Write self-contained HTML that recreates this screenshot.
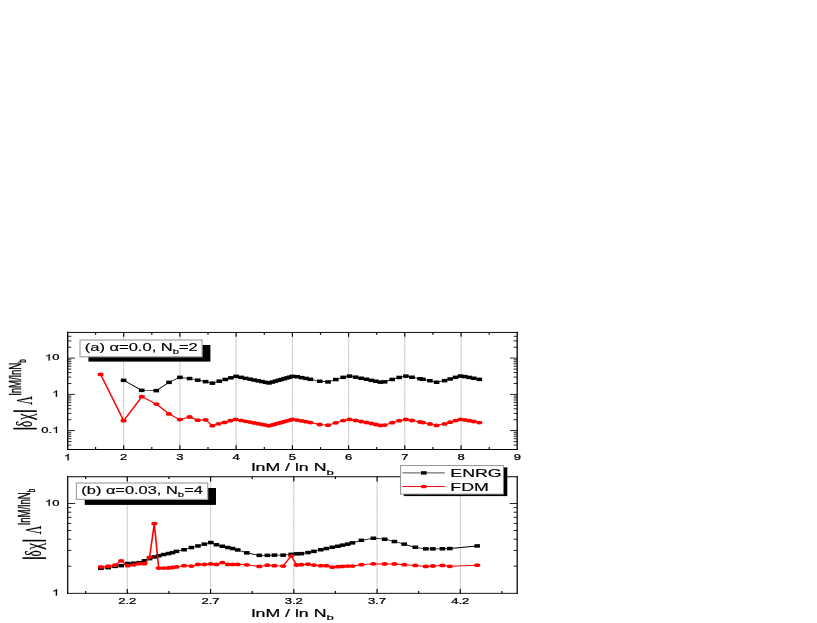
<!DOCTYPE html>
<html><head><meta charset="utf-8"><title>chart</title>
<style>html,body{margin:0;padding:0;background:#fff}svg{display:block;will-change:transform}</style>
</head><body>
<svg width="817" height="623" viewBox="0 0 817 623" font-family="'Liberation Sans', sans-serif" fill="#000">
<g stroke="#dedede" stroke-width="1">
<line x1="123.7" y1="332.4" x2="123.7" y2="449.4"/>
<line x1="179.9" y1="332.4" x2="179.9" y2="449.4"/>
<line x1="236.1" y1="332.4" x2="236.1" y2="449.4"/>
<line x1="292.4" y1="332.4" x2="292.4" y2="449.4"/>
<line x1="348.6" y1="332.4" x2="348.6" y2="449.4"/>
<line x1="404.8" y1="332.4" x2="404.8" y2="449.4"/>
<line x1="461.1" y1="332.4" x2="461.1" y2="449.4"/>
<line x1="127.3" y1="476.8" x2="127.3" y2="593.4"/>
<line x1="210.6" y1="476.8" x2="210.6" y2="593.4"/>
<line x1="293.8" y1="476.8" x2="293.8" y2="593.4"/>
<line x1="377.1" y1="476.8" x2="377.1" y2="593.4"/>
<line x1="460.3" y1="476.8" x2="460.3" y2="593.4"/>
</g>
<g stroke="#bdbdbd" stroke-width="0.9" stroke-dasharray="1.1,1.3">
<line x1="123.7" y1="332.4" x2="123.7" y2="449.4"/>
<line x1="179.9" y1="332.4" x2="179.9" y2="449.4"/>
<line x1="236.1" y1="332.4" x2="236.1" y2="449.4"/>
<line x1="292.4" y1="332.4" x2="292.4" y2="449.4"/>
<line x1="348.6" y1="332.4" x2="348.6" y2="449.4"/>
<line x1="404.8" y1="332.4" x2="404.8" y2="449.4"/>
<line x1="461.1" y1="332.4" x2="461.1" y2="449.4"/>
<line x1="127.3" y1="476.8" x2="127.3" y2="593.4"/>
<line x1="210.6" y1="476.8" x2="210.6" y2="593.4"/>
<line x1="293.8" y1="476.8" x2="293.8" y2="593.4"/>
<line x1="377.1" y1="476.8" x2="377.1" y2="593.4"/>
<line x1="460.3" y1="476.8" x2="460.3" y2="593.4"/>
</g>
<g transform="scale(1,0.64)"><polyline fill="none" stroke="#000" stroke-width="1.2" stroke-linejoin="round" points="123.6,594.22 141.7,610.00 156.3,610.47 169.0,597.34 179.9,589.53 189.6,591.41 197.7,593.91 205.6,596.25 212.4,598.75 219.3,595.57 225.3,592.91 230.9,590.44 236.1,588.12 241.1,589.67 245.7,591.12 250.1,592.50 254.2,593.80 258.2,595.04 262.0,596.22 265.6,597.35 269.0,598.44 272.3,596.97 275.5,595.57 278.6,594.22 281.5,592.91 284.4,591.65 287.1,590.44 289.8,589.26 292.4,588.12 297.2,588.74 301.7,590.03 306.1,591.36 310.4,592.71 319.7,595.71 328.0,596.81 335.8,593.00 343.2,589.60 349.5,587.72 355.6,589.36 361.1,590.99 366.4,592.64 371.4,594.23 375.8,595.67 380.3,597.16 384.6,596.62 392.2,592.91 399.2,589.70 405.9,587.76 412.0,589.41 420.0,591.82 423.0,592.76 429.9,594.98 436.6,597.19 444.6,594.76 450.2,592.07 455.6,589.62 460.5,587.64 464.9,588.48 469.3,589.72 473.7,591.04 479.3,592.78"/></g>
<g fill="#000"><rect x="120.8" y="378.6" width="5.6" height="3.5"/><rect x="138.9" y="388.6" width="5.6" height="3.5"/><rect x="153.5" y="388.9" width="5.6" height="3.5"/><rect x="166.2" y="380.6" width="5.6" height="3.5"/><rect x="177.1" y="375.6" width="5.6" height="3.5"/><rect x="186.8" y="376.8" width="5.6" height="3.5"/><rect x="194.9" y="378.4" width="5.6" height="3.5"/><rect x="202.8" y="379.9" width="5.6" height="3.5"/><rect x="209.6" y="381.4" width="5.6" height="3.5"/><rect x="216.5" y="379.4" width="5.6" height="3.5"/><rect x="222.5" y="377.7" width="5.6" height="3.5"/><rect x="228.1" y="376.1" width="5.6" height="3.5"/><rect x="233.3" y="374.6" width="5.6" height="3.5"/><rect x="238.3" y="375.6" width="5.6" height="3.5"/><rect x="242.9" y="376.6" width="5.6" height="3.5"/><rect x="247.3" y="377.4" width="5.6" height="3.5"/><rect x="251.4" y="378.3" width="5.6" height="3.5"/><rect x="255.4" y="379.1" width="5.6" height="3.5"/><rect x="259.2" y="379.8" width="5.6" height="3.5"/><rect x="262.8" y="380.6" width="5.6" height="3.5"/><rect x="266.2" y="381.2" width="5.6" height="3.5"/><rect x="269.5" y="380.3" width="5.6" height="3.5"/><rect x="272.7" y="379.4" width="5.6" height="3.5"/><rect x="275.8" y="378.5" width="5.6" height="3.5"/><rect x="278.7" y="377.7" width="5.6" height="3.5"/><rect x="281.6" y="376.9" width="5.6" height="3.5"/><rect x="284.3" y="376.1" width="5.6" height="3.5"/><rect x="287.0" y="375.4" width="5.6" height="3.5"/><rect x="289.6" y="374.6" width="5.6" height="3.5"/><rect x="294.4" y="375.0" width="5.6" height="3.5"/><rect x="298.9" y="375.9" width="5.6" height="3.5"/><rect x="303.3" y="376.7" width="5.6" height="3.5"/><rect x="307.6" y="377.6" width="5.6" height="3.5"/><rect x="316.9" y="379.5" width="5.6" height="3.5"/><rect x="325.2" y="380.2" width="5.6" height="3.5"/><rect x="333.0" y="377.8" width="5.6" height="3.5"/><rect x="340.4" y="375.6" width="5.6" height="3.5"/><rect x="346.7" y="374.4" width="5.6" height="3.5"/><rect x="352.8" y="375.4" width="5.6" height="3.5"/><rect x="358.3" y="376.5" width="5.6" height="3.5"/><rect x="363.6" y="377.5" width="5.6" height="3.5"/><rect x="368.6" y="378.6" width="5.6" height="3.5"/><rect x="373.0" y="379.5" width="5.6" height="3.5"/><rect x="377.5" y="380.4" width="5.6" height="3.5"/><rect x="381.8" y="380.1" width="5.6" height="3.5"/><rect x="389.4" y="377.7" width="5.6" height="3.5"/><rect x="396.4" y="375.7" width="5.6" height="3.5"/><rect x="403.1" y="374.4" width="5.6" height="3.5"/><rect x="409.2" y="375.5" width="5.6" height="3.5"/><rect x="417.2" y="377.0" width="5.6" height="3.5"/><rect x="420.2" y="377.6" width="5.6" height="3.5"/><rect x="427.1" y="379.0" width="5.6" height="3.5"/><rect x="433.8" y="380.5" width="5.6" height="3.5"/><rect x="441.8" y="378.9" width="5.6" height="3.5"/><rect x="447.4" y="377.2" width="5.6" height="3.5"/><rect x="452.8" y="375.6" width="5.6" height="3.5"/><rect x="457.7" y="374.3" width="5.6" height="3.5"/><rect x="462.1" y="374.9" width="5.6" height="3.5"/><rect x="466.5" y="375.7" width="5.6" height="3.5"/><rect x="470.9" y="376.5" width="5.6" height="3.5"/><rect x="476.5" y="377.6" width="5.6" height="3.5"/></g>
<g transform="scale(1,0.64)"><polyline fill="none" stroke="#f00" stroke-width="1.6" stroke-linejoin="round" points="100.6,585.00 123.6,657.34 141.8,619.84 156.4,631.41 169.0,646.72 179.9,655.62 189.6,651.56 197.7,656.56 205.6,655.94 212.4,665.16 218.6,662.19 224.5,660.00 230.3,657.34 235.6,655.31 241.1,656.81 245.7,658.22 250.1,659.55 254.2,660.82 258.2,662.02 262.0,663.17 265.6,664.26 269.0,665.31 272.3,663.89 275.5,662.53 278.6,661.22 281.5,659.95 284.4,658.73 287.1,657.56 289.8,656.42 292.4,655.31 297.2,656.38 301.7,657.65 306.1,658.96 310.4,660.28 319.7,663.24 328.0,664.33 335.8,660.57 343.2,657.23 349.5,655.37 355.6,656.99 361.1,658.59 366.4,660.21 371.4,661.79 375.8,663.20 380.3,664.67 384.6,664.14 392.2,660.49 399.2,657.32 405.9,655.41 412.0,657.04 420.0,659.41 423.0,660.33 429.9,662.52 436.6,664.70 444.6,662.30 450.2,659.66 455.6,657.24 460.5,655.29 464.9,656.12 469.3,657.35 473.7,658.64 479.3,660.36"/></g>
<g fill="#f00"><ellipse cx="100.6" cy="374.4" rx="3.1" ry="1.9"/><ellipse cx="123.6" cy="420.7" rx="3.1" ry="1.9"/><ellipse cx="141.8" cy="396.7" rx="3.1" ry="1.9"/><ellipse cx="156.4" cy="404.1" rx="3.1" ry="1.9"/><ellipse cx="169.0" cy="413.9" rx="3.1" ry="1.9"/><ellipse cx="179.9" cy="419.6" rx="3.1" ry="1.9"/><ellipse cx="189.6" cy="417.0" rx="3.1" ry="1.9"/><ellipse cx="197.7" cy="420.2" rx="3.1" ry="1.9"/><ellipse cx="205.6" cy="419.8" rx="3.1" ry="1.9"/><ellipse cx="212.4" cy="425.7" rx="3.1" ry="1.9"/><ellipse cx="218.6" cy="423.8" rx="3.1" ry="1.9"/><ellipse cx="224.5" cy="422.4" rx="3.1" ry="1.9"/><ellipse cx="230.3" cy="420.7" rx="3.1" ry="1.9"/><ellipse cx="235.6" cy="419.4" rx="3.1" ry="1.9"/><ellipse cx="241.1" cy="420.4" rx="3.1" ry="1.9"/><ellipse cx="245.7" cy="421.3" rx="3.1" ry="1.9"/><ellipse cx="250.1" cy="422.1" rx="3.1" ry="1.9"/><ellipse cx="254.2" cy="422.9" rx="3.1" ry="1.9"/><ellipse cx="258.2" cy="423.7" rx="3.1" ry="1.9"/><ellipse cx="262.0" cy="424.4" rx="3.1" ry="1.9"/><ellipse cx="265.6" cy="425.1" rx="3.1" ry="1.9"/><ellipse cx="269.0" cy="425.8" rx="3.1" ry="1.9"/><ellipse cx="272.3" cy="424.9" rx="3.1" ry="1.9"/><ellipse cx="275.5" cy="424.0" rx="3.1" ry="1.9"/><ellipse cx="278.6" cy="423.2" rx="3.1" ry="1.9"/><ellipse cx="281.5" cy="422.4" rx="3.1" ry="1.9"/><ellipse cx="284.4" cy="421.6" rx="3.1" ry="1.9"/><ellipse cx="287.1" cy="420.8" rx="3.1" ry="1.9"/><ellipse cx="289.8" cy="420.1" rx="3.1" ry="1.9"/><ellipse cx="292.4" cy="419.4" rx="3.1" ry="1.9"/><ellipse cx="297.2" cy="420.1" rx="3.1" ry="1.9"/><ellipse cx="301.7" cy="420.9" rx="3.1" ry="1.9"/><ellipse cx="306.1" cy="421.7" rx="3.1" ry="1.9"/><ellipse cx="310.4" cy="422.6" rx="3.1" ry="1.9"/><ellipse cx="319.7" cy="424.5" rx="3.1" ry="1.9"/><ellipse cx="328.0" cy="425.2" rx="3.1" ry="1.9"/><ellipse cx="335.8" cy="422.8" rx="3.1" ry="1.9"/><ellipse cx="343.2" cy="420.6" rx="3.1" ry="1.9"/><ellipse cx="349.5" cy="419.4" rx="3.1" ry="1.9"/><ellipse cx="355.6" cy="420.5" rx="3.1" ry="1.9"/><ellipse cx="361.1" cy="421.5" rx="3.1" ry="1.9"/><ellipse cx="366.4" cy="422.5" rx="3.1" ry="1.9"/><ellipse cx="371.4" cy="423.5" rx="3.1" ry="1.9"/><ellipse cx="375.8" cy="424.5" rx="3.1" ry="1.9"/><ellipse cx="380.3" cy="425.4" rx="3.1" ry="1.9"/><ellipse cx="384.6" cy="425.1" rx="3.1" ry="1.9"/><ellipse cx="392.2" cy="422.7" rx="3.1" ry="1.9"/><ellipse cx="399.2" cy="420.7" rx="3.1" ry="1.9"/><ellipse cx="405.9" cy="419.5" rx="3.1" ry="1.9"/><ellipse cx="412.0" cy="420.5" rx="3.1" ry="1.9"/><ellipse cx="420.0" cy="422.0" rx="3.1" ry="1.9"/><ellipse cx="423.0" cy="422.6" rx="3.1" ry="1.9"/><ellipse cx="429.9" cy="424.0" rx="3.1" ry="1.9"/><ellipse cx="436.6" cy="425.4" rx="3.1" ry="1.9"/><ellipse cx="444.6" cy="423.9" rx="3.1" ry="1.9"/><ellipse cx="450.2" cy="422.2" rx="3.1" ry="1.9"/><ellipse cx="455.6" cy="420.6" rx="3.1" ry="1.9"/><ellipse cx="460.5" cy="419.4" rx="3.1" ry="1.9"/><ellipse cx="464.9" cy="419.9" rx="3.1" ry="1.9"/><ellipse cx="469.3" cy="420.7" rx="3.1" ry="1.9"/><ellipse cx="473.7" cy="421.5" rx="3.1" ry="1.9"/><ellipse cx="479.3" cy="422.6" rx="3.1" ry="1.9"/></g>
<g transform="scale(1,0.64)"><polyline fill="none" stroke="#000" stroke-width="1.2" stroke-linejoin="round" points="100.9,888.12 108.2,886.88 115.1,885.00 121.2,883.75 127.8,880.47 133.7,880.00 139.1,879.06 144.5,876.25 149.6,872.81 154.3,870.31 158.7,868.28 163.6,866.41 168.5,864.84 172.5,863.44 176.5,861.56 184.1,858.91 191.4,855.47 198.0,853.12 204.4,850.16 210.8,847.66 216.4,851.09 222.3,853.59 227.9,855.47 232.6,857.03 237.7,859.38 246.8,863.91 259.3,867.81 267.4,867.81 274.4,867.34 283.1,867.34 291.2,866.25 296.7,865.47 301.4,865.00 308.0,863.28 313.9,861.56 320.8,858.91 326.4,857.03 332.3,855.16 337.9,853.59 342.6,851.72 347.7,850.16 352.4,848.28 361.4,844.38 373.4,840.94 384.7,842.50 394.4,846.09 404.2,850.16 415.3,855.16 425.8,857.66 432.9,857.66 442.4,857.50 449.8,857.03 477.2,853.12"/></g>
<g fill="#000"><rect x="98.1" y="566.6" width="5.6" height="3.5"/><rect x="105.4" y="565.9" width="5.6" height="3.5"/><rect x="112.3" y="564.6" width="5.6" height="3.5"/><rect x="118.4" y="563.9" width="5.6" height="3.5"/><rect x="125.0" y="561.8" width="5.6" height="3.5"/><rect x="130.9" y="561.5" width="5.6" height="3.5"/><rect x="136.3" y="560.9" width="5.6" height="3.5"/><rect x="141.7" y="559.0" width="5.6" height="3.5"/><rect x="146.8" y="556.9" width="5.6" height="3.5"/><rect x="151.5" y="555.2" width="5.6" height="3.5"/><rect x="155.9" y="554.0" width="5.6" height="3.5"/><rect x="160.8" y="552.8" width="5.6" height="3.5"/><rect x="165.7" y="551.8" width="5.6" height="3.5"/><rect x="169.7" y="550.9" width="5.6" height="3.5"/><rect x="173.7" y="549.6" width="5.6" height="3.5"/><rect x="181.3" y="548.0" width="5.6" height="3.5"/><rect x="188.6" y="545.8" width="5.6" height="3.5"/><rect x="195.2" y="544.2" width="5.6" height="3.5"/><rect x="201.6" y="542.4" width="5.6" height="3.5"/><rect x="208.0" y="540.8" width="5.6" height="3.5"/><rect x="213.6" y="543.0" width="5.6" height="3.5"/><rect x="219.5" y="544.5" width="5.6" height="3.5"/><rect x="225.1" y="545.8" width="5.6" height="3.5"/><rect x="229.8" y="546.8" width="5.6" height="3.5"/><rect x="234.9" y="548.2" width="5.6" height="3.5"/><rect x="244.0" y="551.1" width="5.6" height="3.5"/><rect x="256.5" y="553.6" width="5.6" height="3.5"/><rect x="264.6" y="553.6" width="5.6" height="3.5"/><rect x="271.6" y="553.4" width="5.6" height="3.5"/><rect x="280.3" y="553.4" width="5.6" height="3.5"/><rect x="288.4" y="552.6" width="5.6" height="3.5"/><rect x="293.9" y="552.1" width="5.6" height="3.5"/><rect x="298.6" y="551.9" width="5.6" height="3.5"/><rect x="305.2" y="550.8" width="5.6" height="3.5"/><rect x="311.1" y="549.6" width="5.6" height="3.5"/><rect x="318.0" y="548.0" width="5.6" height="3.5"/><rect x="323.6" y="546.8" width="5.6" height="3.5"/><rect x="329.5" y="545.5" width="5.6" height="3.5"/><rect x="335.1" y="544.5" width="5.6" height="3.5"/><rect x="339.8" y="543.4" width="5.6" height="3.5"/><rect x="344.9" y="542.4" width="5.6" height="3.5"/><rect x="349.6" y="541.1" width="5.6" height="3.5"/><rect x="358.6" y="538.6" width="5.6" height="3.5"/><rect x="370.6" y="536.5" width="5.6" height="3.5"/><rect x="381.9" y="537.5" width="5.6" height="3.5"/><rect x="391.6" y="539.8" width="5.6" height="3.5"/><rect x="401.4" y="542.4" width="5.6" height="3.5"/><rect x="412.5" y="545.5" width="5.6" height="3.5"/><rect x="423.0" y="547.1" width="5.6" height="3.5"/><rect x="430.1" y="547.1" width="5.6" height="3.5"/><rect x="439.6" y="547.0" width="5.6" height="3.5"/><rect x="447.0" y="546.8" width="5.6" height="3.5"/><rect x="474.4" y="544.2" width="5.6" height="3.5"/></g>
<g transform="scale(1,0.64)"><polyline fill="none" stroke="#f00" stroke-width="1.6" stroke-linejoin="round" points="100.9,885.78 108.2,884.69 115.1,883.12 121.2,876.25 127.8,883.91 133.7,882.50 139.1,880.78 144.5,880.78 149.6,870.78 154.3,818.12 158.7,887.66 163.6,887.66 168.5,887.34 172.5,886.72 176.5,885.78 184.1,883.91 191.4,884.53 198.0,881.88 204.4,881.88 210.8,881.09 216.4,881.88 222.3,879.06 227.9,881.88 232.6,881.88 237.7,881.88 246.8,882.50 259.3,885.00 267.4,883.12 274.4,883.91 283.1,884.53 291.2,868.91 296.7,882.81 301.4,882.34 308.0,881.56 313.9,882.97 320.8,883.91 326.4,883.91 332.3,886.25 337.9,885.47 342.6,885.00 347.7,884.53 352.4,884.53 361.4,882.34 373.4,880.94 384.7,881.09 394.4,881.09 404.2,882.34 415.3,883.44 425.8,885.00 432.9,884.38 442.4,883.44 449.8,884.84 477.2,883.12"/></g>
<g fill="#f00"><ellipse cx="100.9" cy="566.9" rx="3.1" ry="1.9"/><ellipse cx="108.2" cy="566.2" rx="3.1" ry="1.9"/><ellipse cx="115.1" cy="565.2" rx="3.1" ry="1.9"/><ellipse cx="121.2" cy="560.8" rx="3.1" ry="1.9"/><ellipse cx="127.8" cy="565.7" rx="3.1" ry="1.9"/><ellipse cx="133.7" cy="564.8" rx="3.1" ry="1.9"/><ellipse cx="139.1" cy="563.7" rx="3.1" ry="1.9"/><ellipse cx="144.5" cy="563.7" rx="3.1" ry="1.9"/><ellipse cx="149.6" cy="557.3" rx="3.1" ry="1.9"/><ellipse cx="154.3" cy="523.6" rx="3.1" ry="1.9"/><ellipse cx="158.7" cy="568.1" rx="3.1" ry="1.9"/><ellipse cx="163.6" cy="568.1" rx="3.1" ry="1.9"/><ellipse cx="168.5" cy="567.9" rx="3.1" ry="1.9"/><ellipse cx="172.5" cy="567.5" rx="3.1" ry="1.9"/><ellipse cx="176.5" cy="566.9" rx="3.1" ry="1.9"/><ellipse cx="184.1" cy="565.7" rx="3.1" ry="1.9"/><ellipse cx="191.4" cy="566.1" rx="3.1" ry="1.9"/><ellipse cx="198.0" cy="564.4" rx="3.1" ry="1.9"/><ellipse cx="204.4" cy="564.4" rx="3.1" ry="1.9"/><ellipse cx="210.8" cy="563.9" rx="3.1" ry="1.9"/><ellipse cx="216.4" cy="564.4" rx="3.1" ry="1.9"/><ellipse cx="222.3" cy="562.6" rx="3.1" ry="1.9"/><ellipse cx="227.9" cy="564.4" rx="3.1" ry="1.9"/><ellipse cx="232.6" cy="564.4" rx="3.1" ry="1.9"/><ellipse cx="237.7" cy="564.4" rx="3.1" ry="1.9"/><ellipse cx="246.8" cy="564.8" rx="3.1" ry="1.9"/><ellipse cx="259.3" cy="566.4" rx="3.1" ry="1.9"/><ellipse cx="267.4" cy="565.2" rx="3.1" ry="1.9"/><ellipse cx="274.4" cy="565.7" rx="3.1" ry="1.9"/><ellipse cx="283.1" cy="566.1" rx="3.1" ry="1.9"/><ellipse cx="291.2" cy="556.1" rx="3.1" ry="1.9"/><ellipse cx="296.7" cy="565.0" rx="3.1" ry="1.9"/><ellipse cx="301.4" cy="564.7" rx="3.1" ry="1.9"/><ellipse cx="308.0" cy="564.2" rx="3.1" ry="1.9"/><ellipse cx="313.9" cy="565.1" rx="3.1" ry="1.9"/><ellipse cx="320.8" cy="565.7" rx="3.1" ry="1.9"/><ellipse cx="326.4" cy="565.7" rx="3.1" ry="1.9"/><ellipse cx="332.3" cy="567.2" rx="3.1" ry="1.9"/><ellipse cx="337.9" cy="566.7" rx="3.1" ry="1.9"/><ellipse cx="342.6" cy="566.4" rx="3.1" ry="1.9"/><ellipse cx="347.7" cy="566.1" rx="3.1" ry="1.9"/><ellipse cx="352.4" cy="566.1" rx="3.1" ry="1.9"/><ellipse cx="361.4" cy="564.7" rx="3.1" ry="1.9"/><ellipse cx="373.4" cy="563.8" rx="3.1" ry="1.9"/><ellipse cx="384.7" cy="563.9" rx="3.1" ry="1.9"/><ellipse cx="394.4" cy="563.9" rx="3.1" ry="1.9"/><ellipse cx="404.2" cy="564.7" rx="3.1" ry="1.9"/><ellipse cx="415.3" cy="565.4" rx="3.1" ry="1.9"/><ellipse cx="425.8" cy="566.4" rx="3.1" ry="1.9"/><ellipse cx="432.9" cy="566.0" rx="3.1" ry="1.9"/><ellipse cx="442.4" cy="565.4" rx="3.1" ry="1.9"/><ellipse cx="449.8" cy="566.3" rx="3.1" ry="1.9"/><ellipse cx="477.2" cy="565.2" rx="3.1" ry="1.9"/></g>
<g fill="none" stroke="#000" stroke-linecap="square">
<line x1="67.7" y1="332.45" x2="517.2" y2="332.45" stroke-width="0.95"/>
<line x1="67.7" y1="449.45" x2="517.2" y2="449.45" stroke-width="1.05"/>
<line x1="67.7" y1="332.45" x2="67.7" y2="449.45" stroke-width="1.3"/>
<line x1="517.2" y1="332.45" x2="517.2" y2="449.45" stroke-width="1.3"/>
<line x1="67.7" y1="476.80" x2="517.2" y2="476.80" stroke-width="1.05"/>
<line x1="67.7" y1="593.35" x2="517.2" y2="593.35" stroke-width="0.9"/>
<line x1="67.7" y1="476.80" x2="67.7" y2="593.35" stroke-width="1.25"/>
<line x1="517.2" y1="476.80" x2="517.2" y2="593.35" stroke-width="1.25"/>
</g>
<g stroke="#000" stroke-width="1.15">
<line x1="123.7" y1="449.4" x2="123.7" y2="445.2"/>
<line x1="179.9" y1="449.4" x2="179.9" y2="445.2"/>
<line x1="236.1" y1="449.4" x2="236.1" y2="445.2"/>
<line x1="292.4" y1="449.4" x2="292.4" y2="445.2"/>
<line x1="348.6" y1="449.4" x2="348.6" y2="445.2"/>
<line x1="404.8" y1="449.4" x2="404.8" y2="445.2"/>
<line x1="461.1" y1="449.4" x2="461.1" y2="445.2"/>
<line x1="95.6" y1="449.4" x2="95.6" y2="447.1"/>
<line x1="151.8" y1="449.4" x2="151.8" y2="447.1"/>
<line x1="208.0" y1="449.4" x2="208.0" y2="447.1"/>
<line x1="264.3" y1="449.4" x2="264.3" y2="447.1"/>
<line x1="320.5" y1="449.4" x2="320.5" y2="447.1"/>
<line x1="376.7" y1="449.4" x2="376.7" y2="447.1"/>
<line x1="432.9" y1="449.4" x2="432.9" y2="447.1"/>
<line x1="489.2" y1="449.4" x2="489.2" y2="447.1"/>
<line x1="123.7" y1="332.4" x2="123.7" y2="336.8"/>
<line x1="179.9" y1="332.4" x2="179.9" y2="336.8"/>
<line x1="236.1" y1="332.4" x2="236.1" y2="336.8"/>
<line x1="292.4" y1="332.4" x2="292.4" y2="336.8"/>
<line x1="348.6" y1="332.4" x2="348.6" y2="336.8"/>
<line x1="404.8" y1="332.4" x2="404.8" y2="336.8"/>
<line x1="461.1" y1="332.4" x2="461.1" y2="336.8"/>
<line x1="95.6" y1="332.4" x2="95.6" y2="334.8"/>
<line x1="151.8" y1="332.4" x2="151.8" y2="334.8"/>
<line x1="208.0" y1="332.4" x2="208.0" y2="334.8"/>
<line x1="264.3" y1="332.4" x2="264.3" y2="334.8"/>
<line x1="320.5" y1="332.4" x2="320.5" y2="334.8"/>
<line x1="376.7" y1="332.4" x2="376.7" y2="334.8"/>
<line x1="432.9" y1="332.4" x2="432.9" y2="334.8"/>
<line x1="489.2" y1="332.4" x2="489.2" y2="334.8"/>
<line x1="67.7" y1="430.6" x2="74.9" y2="430.6" stroke-width="0.85"/>
<line x1="67.7" y1="394.4" x2="74.9" y2="394.4" stroke-width="0.85"/>
<line x1="67.7" y1="358.1" x2="74.9" y2="358.1" stroke-width="0.85"/>
<line x1="67.7" y1="445.1" x2="71.3" y2="445.1" stroke-width="0.85"/>
<line x1="67.7" y1="441.6" x2="71.3" y2="441.6" stroke-width="0.85"/>
<line x1="67.7" y1="438.7" x2="71.3" y2="438.7" stroke-width="0.85"/>
<line x1="67.7" y1="436.3" x2="71.3" y2="436.3" stroke-width="0.85"/>
<line x1="67.7" y1="434.2" x2="71.3" y2="434.2" stroke-width="0.85"/>
<line x1="67.7" y1="432.3" x2="71.3" y2="432.3" stroke-width="0.85"/>
<line x1="67.7" y1="419.7" x2="71.3" y2="419.7" stroke-width="0.85"/>
<line x1="67.7" y1="413.4" x2="71.3" y2="413.4" stroke-width="0.85"/>
<line x1="67.7" y1="408.8" x2="71.3" y2="408.8" stroke-width="0.85"/>
<line x1="67.7" y1="405.3" x2="71.3" y2="405.3" stroke-width="0.85"/>
<line x1="67.7" y1="402.4" x2="71.3" y2="402.4" stroke-width="0.85"/>
<line x1="67.7" y1="400.0" x2="71.3" y2="400.0" stroke-width="0.85"/>
<line x1="67.7" y1="397.9" x2="71.3" y2="397.9" stroke-width="0.85"/>
<line x1="67.7" y1="396.1" x2="71.3" y2="396.1" stroke-width="0.85"/>
<line x1="67.7" y1="383.5" x2="71.3" y2="383.5" stroke-width="0.85"/>
<line x1="67.7" y1="377.1" x2="71.3" y2="377.1" stroke-width="0.85"/>
<line x1="67.7" y1="372.6" x2="71.3" y2="372.6" stroke-width="0.85"/>
<line x1="67.7" y1="369.1" x2="71.3" y2="369.1" stroke-width="0.85"/>
<line x1="67.7" y1="366.2" x2="71.3" y2="366.2" stroke-width="0.85"/>
<line x1="67.7" y1="363.8" x2="71.3" y2="363.8" stroke-width="0.85"/>
<line x1="67.7" y1="361.7" x2="71.3" y2="361.7" stroke-width="0.85"/>
<line x1="67.7" y1="359.8" x2="71.3" y2="359.8" stroke-width="0.85"/>
<line x1="67.7" y1="347.2" x2="71.3" y2="347.2" stroke-width="0.85"/>
<line x1="67.7" y1="340.9" x2="71.3" y2="340.9" stroke-width="0.85"/>
<line x1="67.7" y1="336.3" x2="71.3" y2="336.3" stroke-width="0.85"/>
<line x1="517.2" y1="430.6" x2="510.0" y2="430.6" stroke-width="0.85"/>
<line x1="517.2" y1="394.4" x2="510.0" y2="394.4" stroke-width="0.85"/>
<line x1="517.2" y1="358.1" x2="510.0" y2="358.1" stroke-width="0.85"/>
<line x1="517.2" y1="445.1" x2="513.6" y2="445.1" stroke-width="0.85"/>
<line x1="517.2" y1="441.6" x2="513.6" y2="441.6" stroke-width="0.85"/>
<line x1="517.2" y1="438.7" x2="513.6" y2="438.7" stroke-width="0.85"/>
<line x1="517.2" y1="436.3" x2="513.6" y2="436.3" stroke-width="0.85"/>
<line x1="517.2" y1="434.2" x2="513.6" y2="434.2" stroke-width="0.85"/>
<line x1="517.2" y1="432.3" x2="513.6" y2="432.3" stroke-width="0.85"/>
<line x1="517.2" y1="419.7" x2="513.6" y2="419.7" stroke-width="0.85"/>
<line x1="517.2" y1="413.4" x2="513.6" y2="413.4" stroke-width="0.85"/>
<line x1="517.2" y1="408.8" x2="513.6" y2="408.8" stroke-width="0.85"/>
<line x1="517.2" y1="405.3" x2="513.6" y2="405.3" stroke-width="0.85"/>
<line x1="517.2" y1="402.4" x2="513.6" y2="402.4" stroke-width="0.85"/>
<line x1="517.2" y1="400.0" x2="513.6" y2="400.0" stroke-width="0.85"/>
<line x1="517.2" y1="397.9" x2="513.6" y2="397.9" stroke-width="0.85"/>
<line x1="517.2" y1="396.1" x2="513.6" y2="396.1" stroke-width="0.85"/>
<line x1="517.2" y1="383.5" x2="513.6" y2="383.5" stroke-width="0.85"/>
<line x1="517.2" y1="377.1" x2="513.6" y2="377.1" stroke-width="0.85"/>
<line x1="517.2" y1="372.6" x2="513.6" y2="372.6" stroke-width="0.85"/>
<line x1="517.2" y1="369.1" x2="513.6" y2="369.1" stroke-width="0.85"/>
<line x1="517.2" y1="366.2" x2="513.6" y2="366.2" stroke-width="0.85"/>
<line x1="517.2" y1="363.8" x2="513.6" y2="363.8" stroke-width="0.85"/>
<line x1="517.2" y1="361.7" x2="513.6" y2="361.7" stroke-width="0.85"/>
<line x1="517.2" y1="359.8" x2="513.6" y2="359.8" stroke-width="0.85"/>
<line x1="517.2" y1="347.2" x2="513.6" y2="347.2" stroke-width="0.85"/>
<line x1="517.2" y1="340.9" x2="513.6" y2="340.9" stroke-width="0.85"/>
<line x1="517.2" y1="336.3" x2="513.6" y2="336.3" stroke-width="0.85"/>
<line x1="127.3" y1="593.4" x2="127.3" y2="589.1"/>
<line x1="210.6" y1="593.4" x2="210.6" y2="589.1"/>
<line x1="293.8" y1="593.4" x2="293.8" y2="589.1"/>
<line x1="377.1" y1="593.4" x2="377.1" y2="589.1"/>
<line x1="460.3" y1="593.4" x2="460.3" y2="589.1"/>
<line x1="85.7" y1="593.4" x2="85.7" y2="591.1"/>
<line x1="168.9" y1="593.4" x2="168.9" y2="591.1"/>
<line x1="252.2" y1="593.4" x2="252.2" y2="591.1"/>
<line x1="335.4" y1="593.4" x2="335.4" y2="591.1"/>
<line x1="418.7" y1="593.4" x2="418.7" y2="591.1"/>
<line x1="501.9" y1="593.4" x2="501.9" y2="591.1"/>
<line x1="127.3" y1="476.8" x2="127.3" y2="481.4"/>
<line x1="210.6" y1="476.8" x2="210.6" y2="481.4"/>
<line x1="293.8" y1="476.8" x2="293.8" y2="481.4"/>
<line x1="377.1" y1="476.8" x2="377.1" y2="481.4"/>
<line x1="460.3" y1="476.8" x2="460.3" y2="481.4"/>
<line x1="85.7" y1="476.8" x2="85.7" y2="479.0"/>
<line x1="168.9" y1="476.8" x2="168.9" y2="479.0"/>
<line x1="252.2" y1="476.8" x2="252.2" y2="479.0"/>
<line x1="335.4" y1="476.8" x2="335.4" y2="479.0"/>
<line x1="418.7" y1="476.8" x2="418.7" y2="479.0"/>
<line x1="501.9" y1="476.8" x2="501.9" y2="479.0"/>
<line x1="67.7" y1="503.5" x2="75.1" y2="503.5" stroke-width="0.85"/>
<line x1="67.7" y1="566.2" x2="71.3" y2="566.2" stroke-width="0.85"/>
<line x1="67.7" y1="550.4" x2="71.3" y2="550.4" stroke-width="0.85"/>
<line x1="67.7" y1="539.2" x2="71.3" y2="539.2" stroke-width="0.85"/>
<line x1="67.7" y1="530.5" x2="71.3" y2="530.5" stroke-width="0.85"/>
<line x1="67.7" y1="523.4" x2="71.3" y2="523.4" stroke-width="0.85"/>
<line x1="67.7" y1="517.4" x2="71.3" y2="517.4" stroke-width="0.85"/>
<line x1="67.7" y1="512.2" x2="71.3" y2="512.2" stroke-width="0.85"/>
<line x1="67.7" y1="507.6" x2="71.3" y2="507.6" stroke-width="0.85"/>
<line x1="517.2" y1="503.5" x2="509.8" y2="503.5" stroke-width="0.85"/>
<line x1="517.2" y1="566.2" x2="513.6" y2="566.2" stroke-width="0.85"/>
<line x1="517.2" y1="550.4" x2="513.6" y2="550.4" stroke-width="0.85"/>
<line x1="517.2" y1="539.2" x2="513.6" y2="539.2" stroke-width="0.85"/>
<line x1="517.2" y1="530.5" x2="513.6" y2="530.5" stroke-width="0.85"/>
<line x1="517.2" y1="523.4" x2="513.6" y2="523.4" stroke-width="0.85"/>
<line x1="517.2" y1="517.4" x2="513.6" y2="517.4" stroke-width="0.85"/>
<line x1="517.2" y1="512.2" x2="513.6" y2="512.2" stroke-width="0.85"/>
<line x1="517.2" y1="507.6" x2="513.6" y2="507.6" stroke-width="0.85"/>
</g>
<path transform="translate(63.82,460.30) scale(0.00637,0.00425)" d="M763 0L583 0L583 -1147Q518 -1085 412.5 -1023Q307 -961 223 -930L223 -1104Q374 -1175 487 -1276Q600 -1377 647 -1472L763 -1472Z" stroke="#000" stroke-width="49"/>
<text transform="translate(120.05,460.30) scale(1.5,1)" font-size="8.7" stroke="#000" stroke-width="0.25">2</text>
<text transform="translate(176.28,460.30) scale(1.5,1)" font-size="8.7" stroke="#000" stroke-width="0.25">3</text>
<text transform="translate(232.51,460.30) scale(1.5,1)" font-size="8.7" stroke="#000" stroke-width="0.25">4</text>
<text transform="translate(288.74,460.30) scale(1.5,1)" font-size="8.7" stroke="#000" stroke-width="0.25">5</text>
<text transform="translate(344.97,460.30) scale(1.5,1)" font-size="8.7" stroke="#000" stroke-width="0.25">6</text>
<text transform="translate(401.20,460.30) scale(1.5,1)" font-size="8.7" stroke="#000" stroke-width="0.25">7</text>
<text transform="translate(457.43,460.30) scale(1.5,1)" font-size="8.7" stroke="#000" stroke-width="0.25">8</text>
<text transform="translate(513.66,460.30) scale(1.5,1)" font-size="8.7" stroke="#000" stroke-width="0.25">9</text>
<text transform="translate(118.23,604.00) scale(1.5,1)" font-size="8.7" stroke="#000" stroke-width="0.25">2</text>
<text transform="translate(125.49,604.00) scale(1.5,1)" font-size="8.7" stroke="#000" stroke-width="0.25">.</text>
<text transform="translate(129.11,604.00) scale(1.5,1)" font-size="8.7" stroke="#000" stroke-width="0.25">2</text>
<text transform="translate(201.48,604.00) scale(1.5,1)" font-size="8.7" stroke="#000" stroke-width="0.25">2</text>
<text transform="translate(208.74,604.00) scale(1.5,1)" font-size="8.7" stroke="#000" stroke-width="0.25">.</text>
<text transform="translate(212.36,604.00) scale(1.5,1)" font-size="8.7" stroke="#000" stroke-width="0.25">7</text>
<text transform="translate(284.73,604.00) scale(1.5,1)" font-size="8.7" stroke="#000" stroke-width="0.25">3</text>
<text transform="translate(291.99,604.00) scale(1.5,1)" font-size="8.7" stroke="#000" stroke-width="0.25">.</text>
<text transform="translate(295.61,604.00) scale(1.5,1)" font-size="8.7" stroke="#000" stroke-width="0.25">2</text>
<text transform="translate(367.98,604.00) scale(1.5,1)" font-size="8.7" stroke="#000" stroke-width="0.25">3</text>
<text transform="translate(375.24,604.00) scale(1.5,1)" font-size="8.7" stroke="#000" stroke-width="0.25">.</text>
<text transform="translate(378.86,604.00) scale(1.5,1)" font-size="8.7" stroke="#000" stroke-width="0.25">7</text>
<text transform="translate(451.23,604.00) scale(1.5,1)" font-size="8.7" stroke="#000" stroke-width="0.25">4</text>
<text transform="translate(458.49,604.00) scale(1.5,1)" font-size="8.7" stroke="#000" stroke-width="0.25">.</text>
<text transform="translate(462.11,604.00) scale(1.5,1)" font-size="8.7" stroke="#000" stroke-width="0.25">2</text>
<path transform="translate(44.89,360.45) scale(0.00637,0.00425)" d="M763 0L583 0L583 -1147Q518 -1085 412.5 -1023Q307 -961 223 -930L223 -1104Q374 -1175 487 -1276Q600 -1377 647 -1472L763 -1472Z" stroke="#000" stroke-width="49"/>
<text transform="translate(52.14,360.45) scale(1.5,1)" font-size="8.7" stroke="#000" stroke-width="0.25">0</text>
<path transform="translate(52.14,396.70) scale(0.00637,0.00425)" d="M763 0L583 0L583 -1147Q518 -1085 412.5 -1023Q307 -961 223 -930L223 -1104Q374 -1175 487 -1276Q600 -1377 647 -1472L763 -1472Z" stroke="#000" stroke-width="49"/>
<text transform="translate(41.26,432.95) scale(1.5,1)" font-size="8.7" stroke="#000" stroke-width="0.25">0</text>
<text transform="translate(48.52,432.95) scale(1.5,1)" font-size="8.7" stroke="#000" stroke-width="0.25">.</text>
<path transform="translate(52.14,432.95) scale(0.00637,0.00425)" d="M763 0L583 0L583 -1147Q518 -1085 412.5 -1023Q307 -961 223 -930L223 -1104Q374 -1175 487 -1276Q600 -1377 647 -1472L763 -1472Z" stroke="#000" stroke-width="49"/>
<path transform="translate(44.89,505.80) scale(0.00637,0.00425)" d="M763 0L583 0L583 -1147Q518 -1085 412.5 -1023Q307 -961 223 -930L223 -1104Q374 -1175 487 -1276Q600 -1377 647 -1472L763 -1472Z" stroke="#000" stroke-width="49"/>
<text transform="translate(52.14,505.80) scale(1.5,1)" font-size="8.7" stroke="#000" stroke-width="0.25">0</text>
<path transform="translate(52.14,595.50) scale(0.00637,0.00425)" d="M763 0L583 0L583 -1147Q518 -1085 412.5 -1023Q307 -961 223 -930L223 -1104Q374 -1175 487 -1276Q600 -1377 647 -1472L763 -1472Z" stroke="#000" stroke-width="49"/>
<text transform="translate(251.60,471.40) scale(1.69,1)" font-size="10.5" stroke="#000" stroke-width="0.2">lnM / ln N<tspan font-size="7.8" dy="3.2">b</tspan></text>
<text transform="translate(251.60,616.50) scale(1.69,1)" font-size="10.5" stroke="#000" stroke-width="0.2">lnM / ln N<tspan font-size="7.8" dy="3.2">b</tspan></text>
<rect x="13.3" y="427.8" width="23.5" height="1.6"/>
<rect x="13.3" y="410.3" width="23.5" height="1.6"/>
<text transform="translate(32.1,427.0) rotate(-90) scale(0.58,1)" font-size="22.5" stroke="#000" stroke-width="0.25" font-family="'Liberation Serif', serif">&#948;</text>
<text transform="translate(32.1,419.9) rotate(-90) scale(0.66,1)" font-size="22.5" stroke="#000" stroke-width="0.25" font-family="'Liberation Serif', serif">&#967;</text>
<text transform="translate(32.1,404.8) rotate(-90) scale(0.51,1)" font-size="23.5" stroke="#000" stroke-width="0.25" font-family="'Liberation Serif', serif">&#923;</text>
<text transform="translate(21.0,395.5) rotate(-90) scale(0.62,1)" font-size="15.6" stroke="#000" stroke-width="0.4">lnM/lnN<tspan font-size="10" dy="5.2">b</tspan></text>
<rect x="22.5" y="557.3" width="23.5" height="1.6"/>
<rect x="22.5" y="539.8" width="23.5" height="1.6"/>
<text transform="translate(41.3,556.5) rotate(-90) scale(0.58,1)" font-size="22.5" stroke="#000" stroke-width="0.25" font-family="'Liberation Serif', serif">&#948;</text>
<text transform="translate(41.3,549.4) rotate(-90) scale(0.66,1)" font-size="22.5" stroke="#000" stroke-width="0.25" font-family="'Liberation Serif', serif">&#967;</text>
<text transform="translate(41.3,534.3) rotate(-90) scale(0.51,1)" font-size="23.5" stroke="#000" stroke-width="0.25" font-family="'Liberation Serif', serif">&#923;</text>
<text transform="translate(30.2,525.0) rotate(-90) scale(0.62,1)" font-size="15.6" stroke="#000" stroke-width="0.4">lnM/lnN<tspan font-size="10" dy="5.2">b</tspan></text>
<rect x="88.4" y="345.0" width="122.0" height="16.6" fill="#000"/>
<rect x="80.0" y="340.0" width="122.1" height="16.8" fill="#fff" stroke="#a4a4a4" stroke-width="1.2"/>
<text transform="translate(84.70,351.00) scale(1.59,1)" font-size="10.4" stroke="#000" stroke-width="0.15">(a) &#945;=0.0, N<tspan font-size="7" dy="2.6">b</tspan><tspan dy="-2.6">=2</tspan></text>
<rect x="84.7" y="488.0" width="131.3" height="16.9" fill="#000"/>
<rect x="76.4" y="483.0" width="131.3" height="16.4" fill="#fff" stroke="#a4a4a4" stroke-width="1.2"/>
<text transform="translate(81.30,494.40) scale(1.64,1)" font-size="10.0" stroke="#000" stroke-width="0.15">(b) &#945;=0.03, N<tspan font-size="7" dy="2.6">b</tspan><tspan dy="-2.6">=4</tspan></text>
<rect x="403.7" y="467.4" width="103.6" height="28.7" fill="#000"/>
<rect x="400.6" y="465.6" width="102.8" height="28.5" fill="#fff" stroke="#888" stroke-width="0.9"/>
<line x1="402.4" y1="472.9" x2="444.8" y2="472.9" stroke="#444" stroke-width="0.95"/>
<rect x="421.0" y="471.2" width="5.6" height="3.4" fill="#000"/>
<line x1="402.4" y1="486.5" x2="444.8" y2="486.5" stroke="#f00" stroke-width="0.95"/>
<ellipse cx="423.8" cy="486.5" rx="3" ry="1.85" fill="#f00"/>
<text transform="translate(450.30,476.80) scale(1.59,1)" font-size="11.2" text-anchor="start" stroke="#000" stroke-width="0.15">ENRG</text>
<text transform="translate(450.30,490.50) scale(1.59,1)" font-size="11.2" text-anchor="start" stroke="#000" stroke-width="0.15">FDM</text>
</svg>
</body></html>
